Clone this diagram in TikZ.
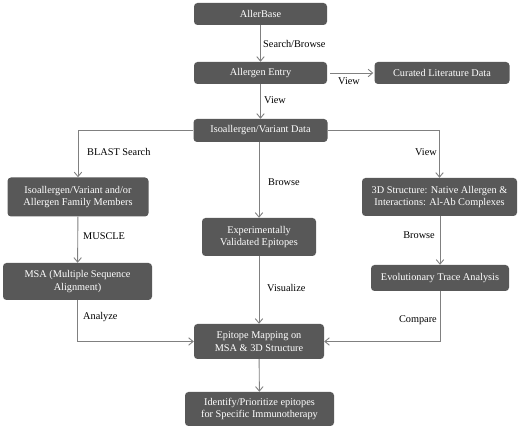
\documentclass[tikz,border=0pt]{standalone}
\usepackage{fontspec}
\setmainfont{Liberation Serif}
\usetikzlibrary{arrows.meta}
\definecolor{boxgray}{HTML}{585858}
\definecolor{linegray}{HTML}{808080}
\begin{document}
\begin{tikzpicture}[x=1pt,y=-1pt,
  box/.style={fill=boxgray,draw=none,rounded corners=3.5pt,text=white,align=center,
    inner sep=0pt,font=\fontsize{10.3}{12.3}\selectfont},
  conn/.style={draw=linegray,line width=0.9pt,-{Straight Barb[length=4.5pt,width=7.5pt]}},
  lbl/.style={font=\fontsize{10.3}{12.3}\selectfont,text=black,inner sep=0pt}]
\useasboundingbox (0,0) rectangle (520,430);
\node[box,minimum width=133pt,minimum height=22pt] (ab) at (260.5,14) {AllerBase};
\node[box,minimum width=133pt,minimum height=22pt] (ae) at (260.5,73) {Allergen Entry};
\node[box,minimum width=135pt,minimum height=22pt] (cur) at (442,73) {Curated Literature Data};
\node[box,minimum width=134pt,minimum height=23pt] (iso) at (260.5,130.5) {Isoallergen/Variant Data};
\node[box,minimum width=141pt,minimum height=39pt] (lb) at (78,197) {Isoallergen/Variant and/or\\Allergen Family Members};
\node[box,minimum width=149pt,minimum height=37pt] (msa) at (77.5,281.5) {MSA (Multiple Sequence\\Alignment)};
\node[box,minimum width=114pt,minimum height=38pt] (ev) at (259,237) {Experimentally\\Validated Epitopes};
\node[box,minimum width=155pt,minimum height=38pt] (rb) at (439.5,197) {3D Structure: Native Allergen \&\\Interactions: Al-Ab Complexes};
\node[box,minimum width=138pt,minimum height=26pt] (evol) at (440,278) {Evolutionary Trace Analysis};
\node[box,minimum width=130pt,minimum height=35pt] (epi) at (259,341.5) {Epitope Mapping on\\MSA \& 3D Structure};
\node[box,minimum width=149pt,minimum height=34pt] (idn) at (259.5,409) {Identify/Prioritize epitopes\\for Specific Immunotherapy};

\draw[conn] (ab) -- (ae);
\draw[conn,shorten <=3pt,shorten >=1pt] (ae) -- (cur);
\draw[conn] (ae) -- (iso);
\draw[conn] (iso.west) -| (lb.north);
\draw[conn] (iso.east) -| (rb.north);
\draw[conn] (iso.south -| ev.north) -- (ev.north);
\draw[conn] (lb) -- (msa);
\draw[conn] (rb.south -| evol.north) -- (evol.north);
\draw[conn] (ev) -- (epi);
\draw[conn] (msa.south) |- (epi.west);
\draw[conn] (evol.south) |- (epi.east);
\draw[conn] (epi) -- (idn);

\node[lbl,anchor=west] (l1) at (263,44) {Search/Browse};
\node[lbl,anchor=west] (l2) at (338,81) {View};
\node[lbl,anchor=west] (l3) at (264,100) {View};
\node[lbl,anchor=west] (l4) at (87,152) {BLAST Search};
\node[lbl,anchor=west] (l5) at (268,182) {Browse};
\node[lbl,anchor=east] (l6) at (437,152) {View};
\node[lbl,anchor=west] (l7) at (83,236) {MUSCLE};
\node[lbl,anchor=east] (l8) at (435,235) {Browse};
\node[lbl,anchor=west] (l9) at (267,288) {Visualize};
\node[lbl,anchor=west] (l10) at (83,317) {Analyze};
\node[lbl,anchor=east] (l11) at (437,320) {Compare};
\end{tikzpicture}
\end{document}
